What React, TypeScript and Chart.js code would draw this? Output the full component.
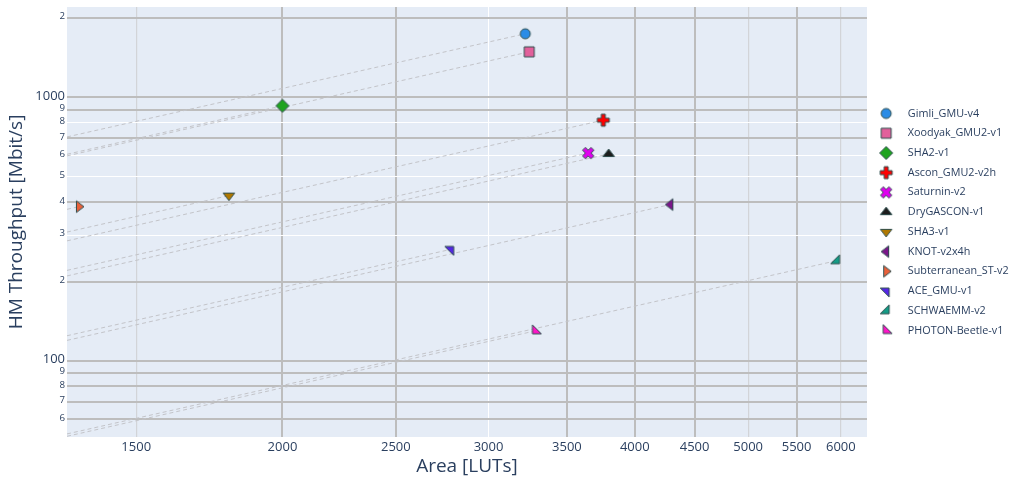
import React, { useEffect, useRef } from 'react';
import { Chart, registerables } from 'chart.js';

Chart.register(...registerables);

// ---------------- data ----------------
const designs = [
  'Gimli_GMU-v4',
  'Xoodyak_GMU2-v1',
  'SHA2-v1',
  'Ascon_GMU2-v2h',
  'Saturnin-v2',
  'DryGASCON-v1',
  'SHA3-v1',
  'KNOT-v2x4h',
  'Subterranean_ST-v2',
  'ACE_GMU-v1',
  'SCHWAEMM-v2',
  'PHOTON-Beetle-v1',
];
const areaLUTs = [3225, 3250, 2000, 3760, 3650, 3800, 1800, 4290, 1340, 2785, 5950, 3290];
const throughputMbps = [1745, 1490, 930, 820, 615, 610, 424, 392, 385, 265, 240, 130];

const xTickValues = [1500, 2000, 2500, 3000, 3500, 4000, 4500, 5000, 5500, 6000];
const xTickLabels = ['1500', '2000', '2500', '3000', '3500', '4000', '4500', '5000', '5500', '6000'];
const yTickValues = [2000, 1000, 900, 800, 700, 600, 500, 400, 300, 200, 100, 90, 80, 70, 60];
const yTickLabels = ['2', '1000', '9', '8', '7', '6', '5', '4', '3', '2', '100', '9', '8', '7', '6'];
const xRange = [1309, 6317];
const yRange = [51.4, 2205];

// ---------------- styles ----------------
const FONT = '"Open Sans", "DejaVu Sans", sans-serif';
const TEXT_COLOR = '#2a3f5f';
const PLOT_BG = '#e5ecf6';
const markerColors = [
  '#2b8ce6', '#e2609b', '#1fa31f', '#ff0000', '#e100f0', '#1c1c1c',
  '#b07800', '#7a1589', '#e9603a', '#5526e6', '#149c86', '#ff14c8',
];
const markerSymbols = [
  'circle', 'square', 'diamond', 'cross', 'x', 'triangle-up',
  'triangle-down', 'triangle-left', 'triangle-right', 'triangle-ne', 'triangle-se', 'triangle-sw',
];
// g = gray thick, w = white thin, l = light gray thin
const xGridKinds = ['l', 'g', 'g', 'w', 'g', 'g', 'g', 'l', 'g', 'l'];
const yGridKinds = ['g', 'g', 'g', 'w', 'g', 'w', 'w', 'g', 'w', 'g', 'g', 'g', 'g', 'g', 'g'];
const gridColor: Record<string, string> = { g: '#bdbdbd', w: '#ffffff', l: '#d2d4d8' };
const gridWidth: Record<string, number> = { g: 2, w: 1, l: 1.2 };

const SYMBOL_PATHS: Record<string, string> = {
  square: 'M5,5H-5V-5H5Z',
  diamond: 'M6.5,0L0,6.5L-6.5,0L0,-6.5Z',
  cross: 'M6,2H2V6H-2V2H-6V-2H-2V-6H2V-2H6Z',
  x: 'M0,2.83l2.83,2.83l2.83,-2.83l-2.83,-2.83l2.83,-2.83l-2.83,-2.83l-2.83,2.83l-2.83,-2.83l-2.83,2.83l2.83,2.83l-2.83,2.83l2.83,2.83Z',
  'triangle-up': 'M-5.77,2.5H5.77L0,-5Z',
  'triangle-down': 'M-5.77,-2.5H5.77L0,5Z',
  'triangle-left': 'M2.5,-5.77V5.77L-5,0Z',
  'triangle-right': 'M-2.5,-5.77V5.77L5,0Z',
  'triangle-ne': 'M-6,-3H3V6Z',
  'triangle-se': 'M3,-6V3H-6Z',
  'triangle-sw': 'M6,3H-3V-6Z',
};

function makeMarker(symbol: string, color: string, width: number, offsetX: number) {
  const c = document.createElement('canvas');
  c.width = width;
  c.height = 16;
  const ctx = c.getContext('2d')!;
  ctx.translate(width / 2 + offsetX, 8);
  ctx.fillStyle = color;
  ctx.strokeStyle = '#2f4f4f';
  ctx.lineWidth = 1;
  ctx.lineJoin = 'miter';
  if (symbol === 'circle') {
    ctx.beginPath();
    ctx.arc(0, 0, 5, 0, Math.PI * 2);
    ctx.fill();
    ctx.stroke();
  } else {
    const p = new Path2D(SYMBOL_PATHS[symbol]);
    ctx.fill(p);
    ctx.stroke(p);
  }
  return c;
}

const plotBackground = {
  id: 'plotBackground',
  beforeDraw(chart: any) {
    const { ctx, chartArea } = chart;
    if (!chartArea) return;
    ctx.save();
    ctx.fillStyle = PLOT_BG;
    ctx.fillRect(chartArea.left, chartArea.top, chartArea.width, chartArea.height);
    ctx.restore();
  },
};

export default function App() {
  const ref = useRef<HTMLCanvasElement>(null);

  useEffect(() => {
    const canvas = ref.current;
    if (!canvas) return;
    const pointImages = designs.map((_, i) => makeMarker(markerSymbols[i], markerColors[i], 16, 0));
    const legendImages = designs.map((_, i) => makeMarker(markerSymbols[i], markerColors[i], 22, -3));

    const markerSets = designs.map((name, i) => ({
      type: 'scatter' as const,
      label: name,
      data: [{ x: areaLUTs[i], y: throughputMbps[i] }],
      pointStyle: pointImages[i],
      backgroundColor: markerColors[i],
      borderColor: markerColors[i],
      pointRadius: 6,
      order: 0,
    }));
    const guideSets = designs.map((name, i) => ({
      type: 'line' as const,
      label: name + ' guide',
      data: [
        { x: xRange[0], y: (throughputMbps[i] * xRange[0]) / areaLUTs[i] },
        { x: areaLUTs[i], y: throughputMbps[i] },
      ],
      showLine: true,
      borderColor: '#c3c4c9',
      borderWidth: 1,
      borderDash: [4, 3],
      pointRadius: 0,
      fill: false,
      order: 1,
    }));

    const chart = new Chart(canvas, {
      type: 'scatter',
      data: { datasets: [...markerSets, ...guideSets] as any },
      plugins: [plotBackground],
      options: {
        animation: false,
        responsive: true,
        maintainAspectRatio: false,
        layout: { padding: { top: 4, left: 0, right: 0, bottom: 0 } },
        plugins: {
          tooltip: { enabled: false },
          legend: {
            position: 'right',
            align: 'center',
            fullSize: false,
            maxWidth: 147,
            labels: {
              usePointStyle: true,
              pointStyleWidth: 26.5,
              padding: 8.93,
              color: TEXT_COLOR,
              font: { family: FONT, size: 10.8 },
              generateLabels: (ch: any) => {
                const base = Chart.defaults.plugins.legend.labels.generateLabels(ch);
                return base
                  .filter((it: any) => it.datasetIndex < designs.length)
                  .map((it: any) => ({ ...it, pointStyle: legendImages[it.datasetIndex], fontColor: TEXT_COLOR }));
              },
            },
          },
        },
        scales: {
          x: {
            type: 'logarithmic',
            min: xRange[0],
            max: xRange[1],
            bounds: 'data',
            afterBuildTicks: (scale: any) => {
              scale.ticks = xTickValues.map((v) => ({ value: v }));
            },
            afterFit: (scale: any) => {
              scale.height = 48;
              scale.paddingLeft = 0;
              scale.paddingRight = 0;
            },
            border: { display: false },
            grid: {
              drawTicks: false,
              color: (c: any) => gridColor[xGridKinds[xTickValues.indexOf(c.tick?.value)] || 'w'],
              lineWidth: (c: any) => gridWidth[xGridKinds[xTickValues.indexOf(c.tick?.value)] || 'w'],
            },
            ticks: {
              autoSkip: false,
              maxRotation: 0,
              padding: 2,
              color: TEXT_COLOR,
              font: { family: FONT, size: 13 },
              callback: (v: any) => xTickLabels[xTickValues.indexOf(Number(v))] ?? '',
            },
            title: {
              display: true,
              text: 'Area [LUTs]',
              color: TEXT_COLOR,
              font: { family: FONT, size: 19 },
              padding: { top: 0, bottom: 6.6 },
            },
          },
          y: {
            type: 'logarithmic',
            min: yRange[0],
            max: yRange[1],
            bounds: 'data',
            afterBuildTicks: (scale: any) => {
              scale.ticks = yTickValues.map((v) => ({ value: v }));
            },
            afterFit: (scale: any) => {
              scale.width = 67;
              scale.paddingTop = 0;
              scale.paddingBottom = 0;
            },
            border: { display: false },
            grid: {
              drawTicks: false,
              color: (c: any) => gridColor[yGridKinds[yTickValues.indexOf(c.tick?.value)] || 'w'],
              lineWidth: (c: any) => gridWidth[yGridKinds[yTickValues.indexOf(c.tick?.value)] || 'w'],
            },
            ticks: {
              autoSkip: false,
              padding: 2,
              labelOffset: -1.5,
              color: TEXT_COLOR,
              font: (c: any) => {
                const v = c.tick?.value;
                return { family: FONT, size: v === 1000 || v === 100 ? 13 : 9.7 };
              },
              callback: (v: any) => yTickLabels[yTickValues.indexOf(Number(v))] ?? '',
            },
            title: {
              display: true,
              text: 'HM Throughput [Mbit/s]',
              color: TEXT_COLOR,
              font: { family: FONT, size: 19 },
              padding: { top: 5.3, bottom: 0 },
            },
          },
        },
      } as any,
    });
    return () => chart.destroy();
  }, []);

  return (
    <div style={{ position: 'fixed', left: 0, top: 0, width: 1014, height: 485, background: '#ffffff' }}>
      <canvas ref={ref} />
    </div>
  );
}
